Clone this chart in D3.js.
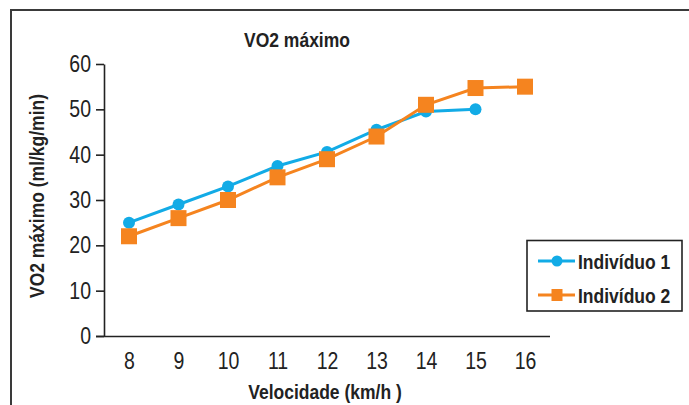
<!DOCTYPE html>
<html><head><meta charset="utf-8">
<script src="https://cdn.jsdelivr.net/npm/d3@7"></script>
<style>html,body{margin:0;padding:0;background:#fff;}svg{display:block;font-family:"Liberation Sans",Arial,sans-serif;}</style>
</head><body>
<svg id="chart" width="689" height="405"></svg>
<script>
const categories = [8, 9, 10, 11, 12, 13, 14, 15, 16];
const seriesNames = ["Indivíduo 1", "Indivíduo 2"];
const individuo1 = [25, 29, 33, 37.5, 40.6, 45.5, 49.5, 50];
const individuo2 = [22, 26, 30, 35, 39, 44, 51, 54.7, 55];
const yTicks = [0, 10, 20, 30, 40, 50, 60];
const colors = ["#12ABE6", "#F5841F"];
const SY = 1.18; // vertical stretch of the lettering in the reference

const svg = d3.select("#chart");
svg.append("rect").attr("x", 11).attr("y", 10).attr("width", 700).attr("height", 420)
  .attr("fill", "none").attr("stroke", "#3a3a3a").attr("stroke-width", 2);

const x = d3.scalePoint().domain(categories).range([129, 525]);
const y = d3.scaleLinear().domain([0, 60]).range([336, 64]);

function stretchedText(g, px, py, str, opts) {
  const t = g.append("text").attr("transform", `translate(${px},${py}) ${opts.rotate ? "rotate(-90) " : ""}scale(1,${SY})`)
    .attr("text-anchor", opts.anchor || "start").attr("font-weight", opts.bold ? "bold" : "normal")
    .attr("font-size", opts.size).attr("fill", "#222").text(str);
  return t;
}

const yAxis = svg.append("g").attr("transform", "translate(104,0)")
  .call(d3.axisLeft(y).tickValues(yTicks).tickSize(8).tickPadding(5).tickSizeOuter(0));
yAxis.select(".domain").attr("stroke", "#222").attr("stroke-width", 1.6);
yAxis.selectAll(".tick line").attr("stroke", "#222").attr("stroke-width", 1.6);
yAxis.selectAll(".tick text").attr("font-size", 19.5).attr("fill", "#222")
  .attr("font-family", "Liberation Sans, Arial, sans-serif")
  .attr("transform", `scale(1,${SY})`);

const xAxis = svg.append("g").attr("transform", "translate(0,336)")
  .call(d3.axisBottom(x).tickSize(0).tickPadding(14).tickSizeOuter(0));
xAxis.select(".domain").attr("d", "M96,0.5H550").attr("stroke", "#222").attr("stroke-width", 1.6);
xAxis.selectAll(".tick text").attr("font-size", 19.5).attr("fill", "#222")
  .attr("font-family", "Liberation Sans, Arial, sans-serif")
  .attr("transform", `scale(1,${SY})`);

stretchedText(svg, 297, 47, "VO2 máximo", {anchor: "middle", bold: true, size: 17.5});
stretchedText(svg, 325, 399, "Velocidade (km/h )", {anchor: "middle", bold: true, size: 17.5});
stretchedText(svg, 44, 196, "VO2 máximo (ml/kg/min)", {anchor: "middle", bold: true, size: 17.5, rotate: true});

const line = d3.line().x((d, i) => x(categories[i])).y(d => y(d));
svg.append("path").datum(individuo1).attr("d", line).attr("fill", "none")
  .attr("stroke", colors[0]).attr("stroke-width", 3);
svg.append("path").datum(individuo2).attr("d", line).attr("fill", "none")
  .attr("stroke", colors[1]).attr("stroke-width", 3);
svg.append("g").selectAll("circle").data(individuo1).join("circle")
  .attr("cx", (d, i) => x(categories[i])).attr("cy", d => y(d)).attr("r", 6).attr("fill", colors[0]);
svg.append("g").selectAll("rect").data(individuo2).join("rect")
  .attr("x", (d, i) => x(categories[i]) - 8).attr("y", d => y(d) - 8)
  .attr("width", 16).attr("height", 16).attr("fill", colors[1]);

const lg = svg.append("g");
lg.append("rect").attr("x", 527).attr("y", 240.5).attr("width", 155).attr("height", 70.5)
  .attr("fill", "#fff").attr("stroke", "#222").attr("stroke-width", 1.6);
const rows = [261, 295];
seriesNames.forEach((name, i) => {
  const cy = rows[i];
  lg.append("line").attr("x1", 538).attr("x2", 575).attr("y1", cy).attr("y2", cy)
    .attr("stroke", colors[i]).attr("stroke-width", 3);
  if (i === 0) {
    lg.append("circle").attr("cx", 557).attr("cy", cy).attr("r", 5.5).attr("fill", colors[i]);
  } else {
    lg.append("rect").attr("x", 551.5).attr("y", cy - 6).attr("width", 11).attr("height", 12).attr("fill", colors[i]);
  }
  stretchedText(lg, 578, cy + 7.5, name, {bold: true, size: 17.5});
});
</script>
</body></html>
